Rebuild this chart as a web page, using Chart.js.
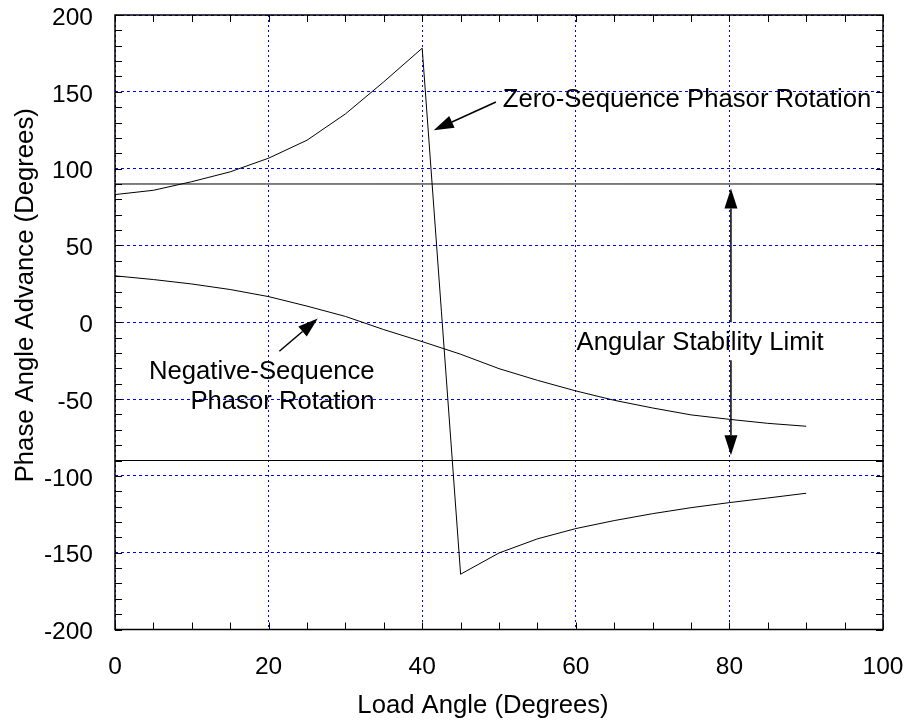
<!DOCTYPE html>
<html>
<head>
<meta charset="utf-8">
<title>Phase Angle Advance</title>
<script src="https://cdn.jsdelivr.net/npm/chart.js@4.4.1/dist/chart.umd.min.js"></script>
<style>
  html, body { margin: 0; padding: 0; background: #ffffff; }
  #wrap { width: 911px; height: 723px; position: relative; }
</style>
</head>
<body>
<div id="wrap"><canvas id="myChart"></canvas></div>
<script>
// Data
const loadAngle = [0, 5, 10, 15, 20, 25, 30, 35, 40, 45, 50, 55, 60, 65, 70, 75, 80, 85, 90];
const zeroSeq   = [83.1, 85.9, 91.5, 97.9, 106.8, 118.5, 135.6, 156.5, 178.4, -164, -150.2, -141, -134.3, -129.1, -124.6, -120.7, -117.4, -114.4, -111.3];
const negSeq    = [30.2, 27.8, 24.9, 21.3, 16.7, 10.5, 3.8, -4.8, -12.6, -20.8, -30.2, -37.8, -44.7, -50.8, -55.8, -60.3, -63.2, -65.8, -67.7];
const limitX     = [0, 100];
const upperLimit = [90, 90];
const lowerLimit = [-90, -90];

// Axes
const xRange = [0, 100];
const yRange = [-200, 200];
const xMajor = 20, xMinor = 5;
const yMajor = 50, yMinor = 10;
const xTitle = "Load Angle (Degrees)";
const yTitle = "Phase Angle Advance (Degrees)";

const FONT = "'Liberation Sans', Arial, Helvetica, sans-serif";
Chart.defaults.font.family = FONT;
Chart.defaults.color = "#000";

const toPoints = (xs, ys) => xs.map((x, i) => ({ x: x, y: ys[i] }));

// Annotation text and arrows, in data units
const labels = [
  { text: "Zero-Sequence Phasor Rotation", x: 50.5, y: 140, align: "left" },
  { text: "Angular Stability Limit",       x: 60.1, y: -18.2, align: "left" },
  { text: "Negative-Sequence",             x: 33.8, y: -36.7, align: "right" },
  { text: "Phasor Rotation",               x: 33.8, y: -56.6, align: "right" },
];
const arrows = [
  { from: [49.6, 143.4], to: [41.5, 125] },   // zero-sequence
  { from: [21.4, -18.9], to: [26.4, 2.4] },   // negative-sequence
  { from: [80.2, 0],     to: [80.2, 87] },    // stability limit, upper half
  { from: [80.2, -24.7], to: [80.2, -86.6] }, // stability limit, lower half
];

function drawArrow(ctx, x1, y1, x2, y2) {
  const len = 20, half = 6.5;
  const a = Math.atan2(y2 - y1, x2 - x1);
  const bx = x2 - len * Math.cos(a), by = y2 - len * Math.sin(a);
  ctx.beginPath();
  ctx.moveTo(x1, y1);
  ctx.lineTo(bx, by);
  ctx.stroke();
  ctx.beginPath();
  ctx.moveTo(x2, y2);
  ctx.lineTo(bx + half * Math.sin(a), by - half * Math.cos(a));
  ctx.lineTo(bx - half * Math.sin(a), by + half * Math.cos(a));
  ctx.closePath();
  ctx.fill();
}

// frame, inward ticks, axis titles, notes
const framePlugin = {
  id: "frame",
  afterDraw(chart) {
    const { ctx, chartArea: a, scales: { x, y } } = chart;
    ctx.save();
    ctx.strokeStyle = "#000";
    ctx.fillStyle = "#000";

    ctx.lineWidth = 1;
    ctx.beginPath();
    for (let v = xRange[0]; v <= xRange[1]; v += xMinor) {
      const px = Math.round(x.getPixelForValue(v)) + 0.5;
      ctx.moveTo(px, a.bottom); ctx.lineTo(px, a.bottom - 7);
      ctx.moveTo(px, a.top);    ctx.lineTo(px, a.top + 7);
    }
    for (let v = yRange[0]; v <= yRange[1]; v += yMinor) {
      const py = Math.round(y.getPixelForValue(v)) + 0.5;
      ctx.moveTo(a.left, py);  ctx.lineTo(a.left + 7, py);
      ctx.moveTo(a.right, py); ctx.lineTo(a.right - 7, py);
    }
    ctx.stroke();

    ctx.lineWidth = 1.5;
    ctx.strokeRect(a.left, a.top, a.right - a.left, a.bottom - a.top);

    // arrows
    ctx.lineWidth = 1.5;
    arrows.forEach(ar => {
      drawArrow(ctx,
        x.getPixelForValue(ar.from[0]), y.getPixelForValue(ar.from[1]),
        x.getPixelForValue(ar.to[0]),   y.getPixelForValue(ar.to[1]));
    });

    // text
    ctx.font = "25.7px " + FONT;
    ctx.textBaseline = "alphabetic";
    labels.forEach(l => {
      ctx.textAlign = l.align;
      ctx.fillText(l.text, x.getPixelForValue(l.x), y.getPixelForValue(l.y));
    });

    // axis titles (slightly off-centre in the original)
    ctx.textAlign = "center";
    ctx.fillText(xTitle, (a.left + a.right) / 2 - 16, chart.height - 10);
    ctx.translate(33, (a.top + a.bottom) / 2 - 27);
    ctx.rotate(-Math.PI / 2);
    ctx.fillText(yTitle, 0, 0);
    ctx.restore();
  }
};

// fixed axis box sizes, no extra label padding
function fixBox(size) {
  return s => {
    if (s.isHorizontal()) s.height = size; else s.width = size;
    s.paddingTop = 0; s.paddingBottom = 0; s.paddingLeft = 0; s.paddingRight = 0;
  };
}

const lineStyle = {
  borderColor: "#000",
  borderWidth: 1,
  pointRadius: 0,
  fill: false,
  tension: 0,
  showLine: true,
};

const data = {
  datasets: [
    Object.assign({ label: "Zero-Sequence",     data: toPoints(loadAngle, zeroSeq) }, lineStyle),
    Object.assign({ label: "Negative-Sequence", data: toPoints(loadAngle, negSeq) }, lineStyle),
    Object.assign({ label: "Upper limit",       data: toPoints(limitX, upperLimit) }, lineStyle),
    Object.assign({ label: "Lower limit",       data: toPoints(limitX, lowerLimit) }, lineStyle),
  ]
};

const config = {
  type: "scatter",
  data: data,
  options: {
    responsive: true,
    maintainAspectRatio: false,
    animation: false,
    layout: { padding: { top: 15, right: 28, left: 0, bottom: 0 } },
    plugins: {
      legend: { display: false },
      tooltip: { enabled: false },
    },
    scales: {
      x: {
        type: "linear",
        min: xRange[0],
        max: xRange[1],
        afterFit: fixBox(93.5),
        ticks: {
          stepSize: xMajor,
          padding: 23,
          maxRotation: 0,
          font: { size: 24.5 },
          color: "#000",
        },
        grid: { color: "#0000ff", lineWidth: 1, drawTicks: false },
        border: { display: false, dash: [2, 3] },
        title: { display: false },
      },
      y: {
        type: "linear",
        min: yRange[0],
        max: yRange[1],
        afterFit: fixBox(115),
        ticks: {
          stepSize: yMajor,
          padding: 22,
          labelOffset: 3,
          font: { size: 24.5 },
          color: "#000",
        },
        grid: { color: "#0000ff", lineWidth: 1, drawTicks: false },
        border: { display: false, dash: [3, 3] },
        title: { display: false },
      },
    },
  },
  plugins: [framePlugin],
};

const ctx = document.getElementById("myChart");
const myChart = new Chart(ctx, config);
</script>
</body>
</html>
